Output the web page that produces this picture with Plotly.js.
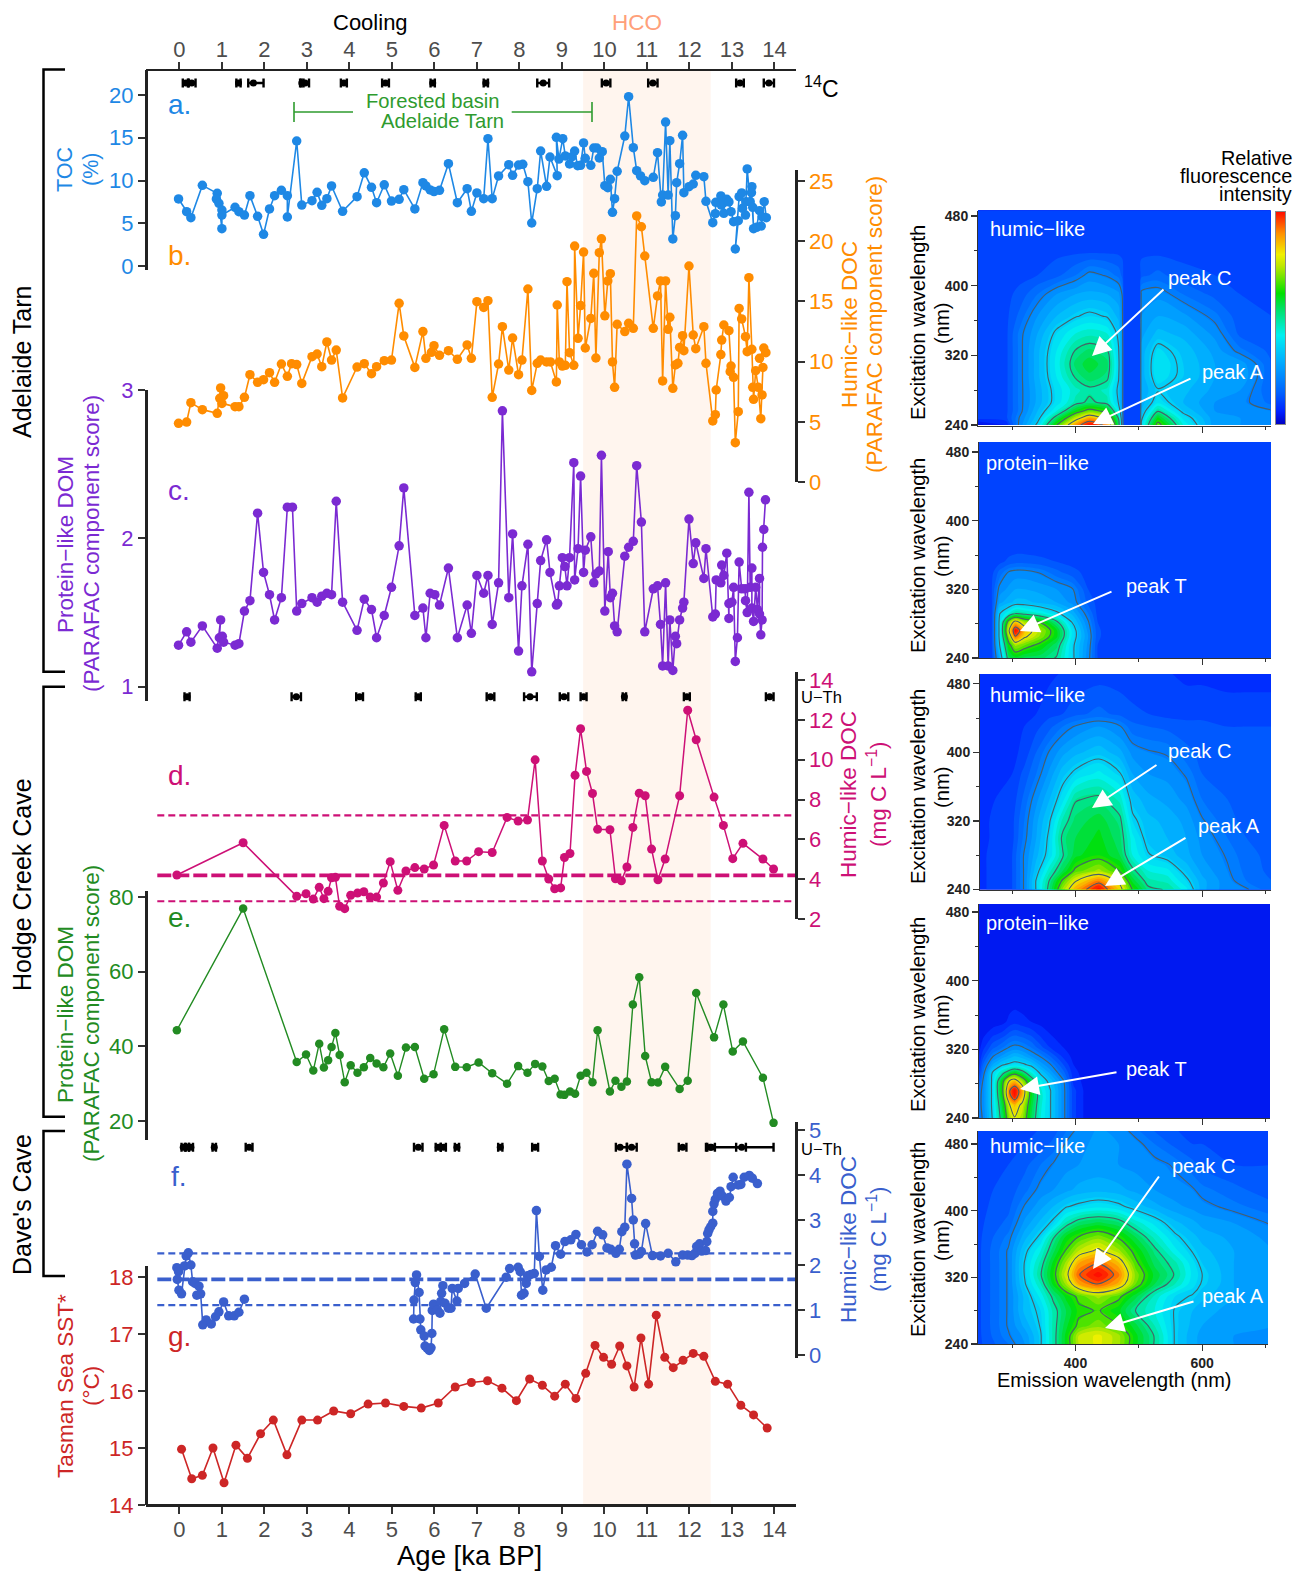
<!DOCTYPE html>
<html><head><meta charset="utf-8">
<script src="https://cdn.plot.ly/plotly-3.0.1.min.js"></script>
<style>html,body{margin:0;padding:0;background:#fff}#c{width:1295px;height:1571px}</style></head>
<body><div id="c"></div>
<script>
// ---------- DATA ----------
const ageTicks=[0,1,2,3,4,5,6,7,8,9,10,11,12,13,14];
const tocAge=[-.02,.17,.27,.54,.89,.87,.93,1,1,1,1.31,1.4,1.53,1.66,1.84,1.98,2.12,2.24,2.4,2.54,2.54,2.76,2.88,3.12,3.24,3.35,3.47,3.58,3.84,4.18,4.35,4.52,4.64,4.82,4.99,5.17,5.28,5.54,5.73,5.8,5.9,5.99,6.12,6.33,6.54,6.77,6.87,7,7.16,7.26,7.36,7.51,7.75,7.84,7.98,8.08,8.2,8.29,8.42,8.5,8.64,8.72,8.89,8.87,8.93,9.02,9.08,9.18,9.24,9.3,9.37,9.44,9.51,9.55,9.68,9.75,9.82,9.88,9.95,10.01,10.08,10.14,10.19,10.24,10.3,10.48,10.57,10.68,10.76,10.85,10.95,11.15,11.25,11.34,11.37,11.44,11.5,11.54,11.61,11.67,11.7,11.77,11.84,11.87,11.99,12.09,12.15,12.34,12.39,12.55,12.61,12.62,12.74,12.75,12.81,12.81,12.88,12.93,12.98,13.04,13.15,13.08,13.17,13.23,13.25,13.32,13.33,13.36,13.43,13.47,13.46,13.51,13.49,13.65,13.58,13.69,13.71,13.76,13.81];
const tocVal=[7.84,6.35,5.65,9.43,8.5,7.84,7.33,4.37,6.55,5.96,6.86,6.35,5.96,8.23,5.81,3.7,6.67,8.23,8.85,8.23,5.73,14.62,7.13,7.64,8.62,7.1,7.88,9.36,6.39,8.11,10.9,9.2,7.4,9.5,7.6,7.8,8.93,6.67,9.75,9.36,8.9,8.7,8.85,11.97,7.4,9.04,6.39,8.54,7.88,14.89,7.88,10.53,11.85,10.6,11.81,11.89,9.86,5.03,9.04,13.45,9.32,12.75,10.57,15.05,12.51,14.89,12.87,11.93,12.79,13.45,11.73,11.77,14.39,12.59,11.77,13.8,13.8,12.63,13.37,9.4,9.16,10.14,6.28,7.88,11.07,15.2,19.8,13.84,11.15,10.53,9.98,10.37,13.26,7.49,8.3,16.84,8.3,14.66,3.16,5.89,9.75,11.97,15.28,8.58,9.28,9.59,10.6,10.45,7.56,5.07,6.12,7.45,8.19,7.13,6.16,7.41,7.8,7.49,6.35,5.19,5.3,1.99,8.11,8.54,6.74,5.96,7.52,11.35,7.52,9.28,8.58,4.37,6.86,6.47,4.52,4.68,5.77,7.52,5.65];

const humicAge=[-.02,.17,.27,.54,.89,.97,.95,1.04,1,1.31,1.4,1.53,1.66,1.84,1.98,2.12,2.24,2.4,2.54,2.64,2.76,2.88,3.12,3.24,3.35,3.47,3.58,3.69,3.84,4.18,4.35,4.52,4.64,4.82,4.99,5.17,5.28,5.54,5.73,5.8,5.93,5.99,6.12,6.33,6.54,6.77,6.87,7,7.16,7.26,7.36,7.51,7.6,7.75,7.84,7.98,8.06,8.2,8.29,8.42,8.5,8.64,8.73,8.87,8.89,8.94,9.01,9.08,9.12,9.18,9.28,9.3,9.38,9.44,9.51,9.55,9.68,9.75,9.8,9.88,9.93,10.01,10.08,10.14,10.19,10.24,10.3,10.48,10.57,10.68,10.76,10.87,10.95,11.15,11.25,11.32,11.37,11.44,11.5,11.54,11.61,11.67,11.73,11.77,11.84,11.87,11.99,12.09,12.15,12.34,12.39,12.55,12.61,12.63,12.74,12.76,12.81,12.93,12.98,12.96,13.04,13.08,13.15,13.17,13.23,13.32,13.36,13.4,13.47,13.49,13.51,13.56,13.62,13.68,13.71,13.73,13.65,13.75,13.8];
const humicVal=[4.87,4.98,6.59,6.01,5.7,7.81,6.95,7.17,6.53,6.26,6.26,7.03,8.91,8.28,8.5,9.08,8.28,9.8,8.78,9.83,9.75,8.19,10.41,10.63,9.58,11.63,10.13,10.96,6.98,9.55,9.83,9,9.58,10.08,10.13,14.84,12.13,9.52,12.49,10.27,10.77,11.32,10.52,10.91,10.19,11.38,10.27,14.98,14.5,15.06,7.03,9.8,12.9,9.3,11.96,8.91,10.13,16.03,7.61,9.86,10.13,9.97,9.97,8.31,14.7,9.97,9.63,9.69,16.64,10.74,9.69,19.6,11.93,14.65,19.1,11.13,13.59,17.33,10.3,19.05,20.2,13.8,16.7,17.3,9.97,7.86,13.1,12.49,13.18,12.76,22.1,21.2,18.77,12.76,15.45,16.7,8.39,16.7,12.68,13.68,7.78,9.72,9.86,11.18,12.15,10.91,17.94,12.21,11.07,12.9,9.86,5.07,5.59,7.64,10.58,11.79,13.04,12.57,9.63,9.16,8.69,3.27,5.84,14.42,13.54,12.07,10.82,16.97,11.02,7.86,6.87,9.25,7.86,5.26,7.23,9.52,10.27,11.13,10.74];

const protAge=[-.02,.17,.27,.54,.89,.97,.94,1.01,1.04,1.31,1.4,1.53,1.66,1.84,1.98,2.12,2.24,2.4,2.54,2.66,2.76,2.88,3.12,3.24,3.35,3.47,3.58,3.69,3.84,4.18,4.35,4.52,4.64,4.82,4.99,5.17,5.28,5.54,5.73,5.8,5.9,6.01,6.12,6.33,6.54,6.77,6.87,7,7.16,7.26,7.36,7.51,7.6,7.75,7.84,7.98,8.06,8.2,8.29,8.42,8.5,8.64,8.72,8.87,8.9,8.94,9.01,9.07,9.12,9.18,9.28,9.3,9.38,9.44,9.51,9.55,9.68,9.75,9.8,9.88,9.93,10.01,10.09,10.14,10.19,10.24,10.3,10.48,10.57,10.68,10.76,10.87,10.95,11.15,11.25,11.32,11.37,11.44,11.5,11.54,11.61,11.67,11.7,11.77,11.84,11.87,11.99,12.09,12.15,12.34,12.39,12.55,12.61,12.63,12.74,12.76,12.81,12.88,12.93,12.93,13,13.04,13.08,13.13,13.17,13.23,13.31,13.32,13.36,13.4,13.43,13.47,13.47,13.51,13.56,13.6,13.65,13.65,13.68,13.71,13.72,13.75,13.79];
const protVal=[1.28,1.37,1.3,1.41,1.26,1.45,1.33,1.34,1.3,1.28,1.29,1.51,1.58,2.17,1.77,1.62,1.45,1.6,2.21,2.21,1.51,1.56,1.6,1.57,1.61,1.63,1.62,2.25,1.57,1.38,1.59,1.52,1.33,1.48,1.67,1.95,2.34,1.48,1.53,1.33,1.63,1.62,1.55,1.8,1.33,1.55,1.36,1.75,1.63,1.75,1.42,1.7,2.86,1.6,2.03,1.24,1.68,1.96,1.1,1.56,1.85,1.99,1.77,1.55,1.56,1.68,1.87,1.81,1.68,1.87,2.51,1.72,1.93,2.42,1.77,1.92,2.01,1.7,1.76,1.78,2.56,1.51,1.91,1.6,1.63,1.41,1.37,1.88,1.94,1.98,2.49,2.11,1.37,1.66,1.68,1.42,1.14,1.7,1.14,1.45,1.11,1.34,1.29,1.45,1.53,1.57,2.13,1.83,1.97,1.73,1.93,1.47,1.49,1.72,1.7,1.82,1.75,1.9,1.46,1.56,1.57,1.67,1.17,1.33,1.84,1.66,1.66,1.58,1.5,2.31,1.67,1.8,1.53,1.44,1.67,1.52,1.73,1.49,1.35,1.45,1.94,2.06,2.26];

const hodgeAge=[-.06,1.5,2.76,2.98,3.15,3.29,3.4,3.5,3.58,3.67,3.77,3.89,4.03,4.19,4.34,4.49,4.64,4.8,4.96,5.14,5.33,5.54,5.76,5.98,6.23,6.49,6.76,7.04,7.36,7.71,7.97,8.19,8.37,8.54,8.69,8.83,8.97,9.06,9.19,9.31,9.44,9.58,9.72,9.84,10.13,10.26,10.4,10.53,10.67,10.82,10.96,11.11,11.26,11.43,11.77,11.96,12.16,12.58,12.8,13.02,13.26,13.73,13.98];
const hodgeDoc=[4.21,5.83,3.14,3.27,3,3.59,3.02,3.39,4.07,4.09,2.64,2.52,3.19,3.3,3.37,3.1,3.1,3.81,4.88,3.44,4.41,4.58,4.51,4.71,6.7,4.91,4.91,5.38,5.34,7.1,6.92,6.97,9.99,4.91,4.01,3.52,3.56,5.09,5.29,9.22,11.55,9.41,8.3,6.5,6.48,4.02,3.92,4.61,6.6,8.32,8.19,5.51,3.97,5.01,8.19,12.48,11,8.12,6.7,5.03,5.8,5.01,4.51];
const hodgeDom=[44.3,76.9,35.8,37.8,33.5,40.7,34.3,36.3,39.8,43.6,37.7,30.4,34.9,32.9,34.4,36.9,35.4,34.4,38.1,32.1,39.7,39.8,31.3,32.5,44.6,34.5,34.4,35.7,32.8,30,34.7,32.9,35.3,34.6,30.7,31.3,27.1,27,27.9,27.3,32.1,32.9,30.4,44.3,27.9,30.8,29.2,30.6,51.2,58.5,37.4,30.4,30.3,34.5,28.6,30.8,54.3,42.4,51.2,38.6,41.3,31.6,19.5];
const hodgeLimits=[7.2,4.19,2.89];

const daveAge=[-.06,-.02,-.05,-.01,.05,.12,.16,.21,.27,.31,.37,.46,.41,.5,.55,.63,.75,.85,.93,1.04,1.16,1.29,1.4,1.53,null,5.51,5.52,5.55,5.58,5.64,5.66,5.68,5.76,5.78,5.83,5.88,5.92,5.94,5.95,5.98,6.07,6.13,6.2,6.17,6.15,6.25,6.33,6.39,6.42,6.53,6.56,6.71,6.96,7.22,7.69,7.77,7.97,8.02,8.05,8.11,8.16,8.19,8.27,8.35,8.4,8.47,8.55,8.63,8.75,8.85,8.97,9.07,9.21,9.33,9.46,9.59,9.71,9.84,9.96,10.06,10.15,10.27,10.35,10.41,10.48,10.53,10.64,10.68,10.71,10.73,10.82,10.87,10.97,11.13,11.32,11.5,11.68,11.84,11.96,12.06,12.13,12.17,12.24,12.29,12.38,12.41,12.43,12.46,12.5,12.55,12.55,12.58,12.61,12.66,12.72,12.78,12.86,12.94,12.98,13.03,13.15,13.21,13.29,13.41,13.48,13.6];
const daveDoc=[1.94,1.85,1.68,1.44,1.36,1.98,2.2,2.27,2,1.63,1.59,1.53,1.33,1.36,.67,.78,.69,.85,.96,1.18,.87,.87,.95,1.24,null,.8,1.22,1.61,1.78,1.39,.8,.56,.42,.2,.15,.1,.16,.48,.99,1.13,1,.93,1.54,1.37,1.19,1.15,1.04,1.04,1.48,1.2,1.48,1.59,1.8,1.04,1.73,1.92,1.95,1.85,1.33,1.37,1.59,1.76,1.79,1.81,3.21,2.19,1.44,1.89,1.95,2.43,2.24,2.52,2.56,2.68,2.45,2.29,2.45,2.75,2.67,2.38,2.35,2.26,2.35,2.74,2.84,4.24,3.48,3,2.47,2.22,2.24,2.3,2.92,2.21,2.2,2.26,2.07,2.22,2.22,2.21,2.26,2.41,2.47,2.31,2.32,2.52,2.7,2.78,2.85,2.93,3.19,3.36,3.46,3.59,3.64,3.53,3.42,3.5,3.74,3.95,3.78,3.79,3.95,3.99,3.93,3.81];
const daveLimits=[2.26,1.68,1.11];

const sstAge=[.05,.29,.54,.79,1.05,1.33,1.6,1.91,2.21,2.53,2.88,3.25,3.63,4.03,4.44,4.85,5.28,5.69,6.09,6.49,6.87,7.25,7.59,7.93,8.24,8.54,8.83,9.08,9.33,9.56,9.78,9.98,10.17,10.36,10.53,10.7,10.86,11.04,11.22,11.42,11.62,11.85,12.09,12.34,12.61,12.9,13.21,13.51,13.83];
const sstVal=[14.98,14.46,14.52,15,14.39,15.05,14.82,15.25,15.49,14.88,15.49,15.49,15.65,15.6,15.77,15.79,15.73,15.7,15.79,16.07,16.15,16.18,16.05,15.83,16.21,16.1,15.91,16.12,15.87,16.31,16.8,16.59,16.47,16.79,16.44,16.07,16.93,16.12,17.33,16.59,16.41,16.54,16.66,16.61,16.17,16.12,15.75,15.58,15.35];

// age-model dates: centre, minus, plus
const c14Age=[.15,.29,1.39,1.74,2.88,2.96,3.87,4.85,5.96,7.21,8.56,10.04,11.14,13.19,13.87];
const c14Minus=[.07,.09,.05,.12,.04,.09,.07,.08,.05,.05,.14,.1,.11,.09,.12];
const c14Plus=[.07,.09,.05,.24,.04,.09,.07,.08,.05,.05,.14,.1,.11,.09,.12];
const hodgeDateAge=[.18,2.75,4.24,5.62,7.32,8.25,9.05,9.51,10.47,11.94,13.89];
const hodgeDateMinus=[.06,.11,.08,.06,.09,.14,.1,.07,.04,.07,.09];
const hodgeDatePlus=[.06,.11,.08,.06,.09,.16,.1,.07,.04,.07,.09];
const daveDateAge=[.09,.19,.27,.82,1.64,5.62,6.09,6.21,6.53,7.55,8.37,10.37,10.64,11.84,12.49,12.52,13.23];
const daveDateMinus=[.04,.04,.05,.04,.08,.1,.06,.06,.05,.05,.07,.1,.11,.09,.1,.1,.13];
const daveDatePlus=[.04,.04,.05,.04,.08,.1,.06,.06,.05,.05,.07,.16,.12,.09,.11,1.46,.1];
const hcoSpan=[9.5,12.5];

// EEM panels (relative intensity, rows from low to high excitation)
const em1=[246,290,312,340,370,400,422,450,468,474,476,502,504,530,570,620,660,710];
const ex1=[240,248,256,266,280,295,310,325,345,365,390,412,440,495];
const z1=[
[.04,.08,.24,.38,.64,.88,1.0,.9,.54,.32,.13,.13,.38,.68,.44,.27,.26,.26],
[.12,.13,.23,.34,.54,.74,.86,.76,.5,.3,.13,.13,.35,.6,.4,.27,.26,.25],
[.12,.13,.21,.32,.44,.6,.68,.62,.42,.28,.13,.13,.32,.5,.35,.26,.25,.23],
[.12,.13,.21,.3,.39,.48,.52,.48,.36,.26,.13,.13,.3,.4,.32,.26,.24,.19],
[.12,.13,.21,.3,.39,.46,.49,.46,.35,.26,.13,.13,.29,.36,.33,.28,.26,.17],
[.12,.13,.21,.31,.41,.51,.55,.52,.37,.26,.13,.13,.3,.4,.35,.29,.29,.17],
[.12,.13,.21,.31,.42,.54,.58,.54,.38,.26,.13,.13,.3,.41,.35,.29,.28,.17],
[.12,.13,.21,.31,.41,.51,.54,.51,.37,.26,.13,.13,.3,.39,.34,.28,.21,.16],
[.12,.13,.21,.29,.38,.44,.46,.44,.35,.25,.13,.13,.28,.33,.31,.25,.16,.15],
[.12,.13,.18,.26,.32,.36,.38,.36,.31,.24,.13,.13,.26,.29,.27,.21,.15,.14],
[.12,.13,.15,.2,.26,.29,.3,.29,.27,.22,.13,.13,.24,.25,.2,.16,.14,.14],
[.12,.13,.13,.14,.16,.2,.24,.22,.19,.16,.13,.13,.16,.18,.15,.14,.14,.14],
[.13,.13,.13,.13,.13,.13,.13,.13,.13,.13,.13,.13,.13,.13,.13,.13,.13,.13],
[.13,.13,.13,.13,.13,.13,.13,.13,.13,.13,.13,.13,.13,.13,.13,.13,.13,.13]];
const em2=[246,268,280,295,305,320,345,370,395,420,435,450,710];
const ex2=[240,255,265,272,282,292,305,320,340,352,370,495];
const z2=[
[.12,.13,.3,.55,.58,.55,.54,.5,.38,.24,.14,.12,.12],
[.12,.14,.36,.62,.72,.68,.62,.54,.38,.25,.14,.12,.12],
[.12,.14,.38,.72,.92,.8,.7,.6,.4,.26,.15,.12,.12],
[.12,.14,.38,.78,1.0,.84,.72,.6,.4,.25,.15,.12,.12],
[.12,.14,.38,.7,.82,.72,.64,.52,.36,.23,.14,.12,.12],
[.12,.14,.36,.44,.5,.48,.44,.38,.31,.2,.13,.12,.12],
[.12,.14,.28,.31,.33,.33,.31,.29,.25,.16,.13,.12,.12],
[.12,.14,.24,.27,.29,.29,.28,.26,.23,.14,.13,.12,.12],
[.12,.13,.18,.23,.24,.24,.22,.18,.15,.13,.12,.12,.12],
[.12,.12,.13,.15,.16,.16,.15,.14,.13,.12,.12,.12,.12],
[.12,.12,.12,.12,.12,.12,.12,.12,.12,.12,.12,.12,.12],
[.12,.12,.12,.12,.12,.12,.12,.12,.12,.12,.12,.12,.12]];
const em3=[246,300,319,338,359,380,400,437,470,490,515,545,575,600,640,670,710];
const ex3=[240,250,262,280,300,320,345,375,400,430,445,495];
const z3=[
[.1,.14,.23,.37,.53,.72,.86,1.0,.82,.64,.52,.5,.42,.3,.24,.23,.18],
[.1,.14,.23,.37,.51,.66,.78,.9,.76,.58,.48,.46,.38,.3,.24,.2,.17],
[.1,.14,.23,.34,.46,.56,.66,.72,.64,.52,.44,.42,.34,.28,.23,.19,.16],
[.1,.14,.23,.31,.39,.5,.58,.62,.56,.44,.37,.34,.3,.26,.22,.18,.16],
[.1,.13,.21,.29,.38,.52,.56,.6,.54,.42,.34,.32,.29,.25,.2,.17,.15],
[.1,.13,.2,.28,.36,.48,.54,.58,.52,.38,.33,.31,.28,.23,.18,.16,.15],
[.1,.12,.18,.25,.32,.4,.5,.52,.46,.34,.3,.28,.25,.2,.17,.15,.15],
[.1,.11,.15,.2,.27,.34,.38,.42,.37,.29,.26,.25,.22,.17,.16,.15,.15],
[.1,.1,.12,.17,.23,.28,.31,.34,.3,.25,.23,.22,.18,.16,.15,.15,.15],
[.1,.1,.11,.13,.16,.2,.23,.26,.23,.18,.17,.16,.15,.15,.14,.14,.14],
[.1,.1,.1,.11,.13,.14,.16,.18,.16,.15,.14,.13,.13,.13,.12,.12,.12],
[.1,.1,.1,.1,.1,.11,.11,.12,.12,.11,.11,.11,.1,.1,.1,.1,.1]];
const em4=[246,254,269,285,296,304,316,330,345,360,381,397,420,710];
const ex4=[240,255,265,272,283,293,302,312,322,338,352,380,495];
const z4=[
[.2,.23,.37,.55,.72,.78,.72,.56,.44,.37,.24,.12,.06,.06],
[.2,.24,.38,.58,.78,.84,.76,.58,.45,.37,.24,.12,.06,.06],
[.2,.24,.38,.62,.9,.98,.84,.6,.46,.37,.24,.12,.06,.06],
[.19,.24,.38,.64,.92,1.0,.86,.6,.45,.37,.24,.12,.06,.06],
[.14,.23,.38,.62,.8,.84,.72,.56,.42,.34,.23,.1,.06,.06],
[.1,.2,.37,.48,.56,.6,.54,.44,.35,.28,.18,.09,.06,.06],
[.08,.17,.29,.36,.38,.39,.38,.35,.28,.23,.14,.08,.06,.06],
[.07,.13,.22,.27,.3,.32,.3,.26,.22,.17,.1,.07,.06,.06],
[.06,.1,.16,.2,.23,.24,.23,.2,.15,.11,.08,.06,.06,.06],
[.06,.07,.1,.12,.15,.16,.15,.13,.1,.08,.06,.06,.06,.06],
[.06,.06,.06,.07,.09,.1,.09,.08,.07,.06,.06,.06,.06,.06],
[.06,.06,.06,.06,.06,.06,.06,.06,.06,.06,.06,.06,.06,.06],
[.06,.06,.06,.06,.06,.06,.06,.06,.06,.06,.06,.06,.06,.06]];
const em5=[246,294,320,345,365,385,405,436,468,495,525,557,585,600,650,710];
const ex5=[240,250,262,280,297,312,323,337,352,368,385,405,425,455,480,500];
const z5=[
[.13,.2,.26,.36,.48,.6,.74,.78,.72,.6,.5,.36,.3,.28,.26,.26],
[.13,.22,.27,.36,.48,.6,.74,.78,.72,.6,.5,.36,.3,.28,.26,.26],
[.13,.23,.3,.37,.48,.58,.66,.7,.65,.57,.47,.36,.31,.29,.27,.26],
[.13,.23,.33,.38,.48,.56,.63,.65,.6,.5,.44,.36,.32,.3,.28,.26],
[.13,.23,.33,.42,.52,.6,.66,.72,.66,.57,.46,.38,.36,.33,.29,.26],
[.13,.23,.36,.47,.6,.72,.86,.93,.85,.68,.56,.47,.39,.36,.29,.26],
[.13,.23,.37,.5,.62,.76,.92,1.0,.9,.7,.58,.5,.4,.365,.29,.26],
[.13,.23,.37,.48,.6,.72,.86,.92,.84,.66,.55,.48,.39,.35,.29,.26],
[.13,.23,.35,.44,.55,.65,.74,.8,.72,.62,.52,.42,.36,.33,.29,.26],
[.13,.21,.31,.38,.5,.6,.65,.7,.64,.56,.46,.38,.33,.31,.28,.25],
[.13,.18,.27,.33,.38,.48,.54,.57,.54,.46,.4,.33,.3,.28,.26,.22],
[.13,.16,.23,.28,.32,.36,.38,.4,.38,.34,.3,.27,.25,.24,.21,.18],
[.13,.15,.19,.24,.26,.28,.3,.31,.3,.28,.26,.24,.23,.21,.18,.15],
[.13,.14,.16,.2,.23,.25,.26,.27,.26,.25,.24,.22,.18,.16,.14,.14],
[.13,.13,.14,.15,.18,.23,.25,.27,.26,.24,.2,.16,.14,.14,.14,.14],
[.13,.13,.13,.14,.15,.19,.23,.26,.24,.2,.16,.14,.14,.14,.14,.14]];
const colorbarLevels=[0,.1,.2,.3,.4,.5,.6,.7,.8,.9,1];

// ---------- STYLE / LAYOUT ----------
const W=1295,H=1571,FONT='"Liberation Sans",Arial,sans-serif';
const C={a:'#1E88E5',b:'#FF8C00',c:'#7B2AD2',d:'#CD1076',e:'#228B22',f:'#3A5FCD',g:'#CD2626',hco:'#FFA07A',label:'#4D4D4D',ax:'#222222'};
const rainbow=[[0,'#0000C0'],[.06,'#0020FF'],[.15,'#0060FF'],[.3,'#00B0FF'],[.42,'#00F0F0'],[.55,'#00E060'],[.62,'#00E000'],[.75,'#C0E800'],[.8,'#F0F000'],[.9,'#FF9000'],[1,'#FF1000']];
const fx=p=>p/W, fy=p=>1-p/H;
const dom=(t,b)=>[fy(b),fy(t)];
function scale(t,b,v1,p1,v2,p2){const s=(v2-v1)/(p2-p1),v=p=>v1+(p-p1)*s;return {domain:dom(t,b),range:[v(b),v(t)]};}
const ageRange=[(146-179.4)/42.5,(796-179.4)/42.5];
function yAxis(sc,color,vals,side,extra){return Object.assign({domain:sc.domain,range:sc.range,anchor:'free',position:side==='left'?fx(146):fx(796),side:side,tickmode:'array',tickvals:vals,ticks:'outside',ticklen:7,tickwidth:2,tickcolor:'#333',showline:true,linecolor:C.ax,linewidth:2.5,showgrid:false,zeroline:false,tickfont:{family:FONT,size:22,color:color},fixedrange:true},extra||{});}
function xAxis(pos,side,extra){return Object.assign({domain:[fx(146),fx(796)],range:ageRange,anchor:'free',position:pos,side:side,tickmode:'array',tickvals:ageTicks,ticks:'outside',ticklen:7,tickwidth:2,tickcolor:'#333',showline:true,linecolor:C.ax,linewidth:2.5,showgrid:false,zeroline:false,tickfont:{family:FONT,size:22,color:C.label},fixedrange:true},extra||{});}
const hiddenY=(py)=>({domain:dom(py-6,py+6),range:[0,1],visible:false,fixedrange:true,anchor:'x'});

const layout={width:W,height:H,margin:{l:0,r:0,t:0,b:0},paper_bgcolor:'#fff',plot_bgcolor:'rgba(0,0,0,0)',showlegend:false,font:{family:FONT},
 xaxis:xAxis(fy(1505),'bottom',{ticklabelstandoff:-3}),
 xaxis2:xAxis(fy(69.5),'top',{overlaying:'x',ticklabelstandoff:-4}),
 yaxis:yAxis(scale(69.5,269.5,0,266,20,95),C.a,[0,5,10,15,20],'left'),
 yaxis2:yAxis(scale(170,482,0,482,25,181),C.b,[0,5,10,15,20,25],'right'),
 yaxis3:yAxis(scale(390,700.7,3,390,1,686.7),C.c,[1,2,3],'left'),
 yaxis4:yAxis(scale(672,919,2,919,14,680),C.d,[2,4,6,8,10,12,14],'right'),
 yaxis5:yAxis(scale(890.7,1140,80,897,20,1121),C.e,[20,40,60,80],'left'),
 yaxis6:yAxis(scale(1122,1358,0,1355,5,1130),C.f,[0,1,2,3,4,5],'right'),
 yaxis7:yAxis(scale(1266,1505,14,1505,18,1277),C.g,[14,15,16,17,18],'left'),
 yaxis8:hiddenY(83), yaxis9:hiddenY(696.7), yaxis10:hiddenY(1147.3)
};
// EEM panels
const panels=[
 {l:978,r:1270.5,t:210.5,b:425.5,y480:216,y240:425,em:em1,ex:ex1,z:z1},
 {l:979,r:1271,t:442,b:658,y480:452,y240:658,em:em2,ex:ex2,z:z2},
 {l:980,r:1271,t:674,b:889.5,y480:683.7,y240:889.5,em:em3,ex:ex3,z:z3},
 {l:979,r:1270,t:904,b:1118,y480:912,y240:1118,em:em4,ex:ex4,z:z4},
 {l:978,r:1268,t:1131,b:1344,y480:1144,y240:1344,em:em5,ex:ex5,z:z5}];
const traces=[];
panels.forEach((p,i)=>{
 const xn='xaxis'+(3+i),yn='yaxis'+(11+i),last=i===4;
 const xv=q=>400+(q-1075.5)/0.6335;
 layout[xn]={domain:[fx(p.l),fx(p.r)],range:[xv(p.l),xv(p.r)],anchor:'y'+(11+i),tickmode:'array',tickvals:[400,600],showticklabels:last,ticks:'outside',ticklen:6,tickwidth:1.3,tickcolor:'#333',
   minor:{tickmode:'array',tickvals:[300,500,700],ticks:'outside',ticklen:3,tickwidth:1,tickcolor:'#333'},
   showline:true,linecolor:'#333',linewidth:1,showgrid:false,zeroline:false,tickfont:{family:FONT,size:14,weight:'bold',color:'#222'},fixedrange:true};
 const s=scale(p.t,p.b,240,p.y240,480,p.y480);
 layout[yn]={domain:s.domain,range:s.range,anchor:'x'+(3+i),tickmode:'array',tickvals:[240,320,400,480],ticks:'outside',ticklen:6,tickwidth:1.3,tickcolor:'#333',
   minor:{tickmode:'array',tickvals:[280,360,440],ticks:'outside',ticklen:3,tickwidth:1,tickcolor:'#333'},
   showline:true,linecolor:'#333',linewidth:1,showgrid:false,zeroline:false,tickfont:{family:FONT,size:14,weight:'bold',color:'#222'},fixedrange:true};
 traces.push({type:'contour',x:p.em,y:p.ex,z:p.z,xaxis:'x'+(3+i),yaxis:'y'+(11+i),zmin:0,zmax:1,zauto:false,colorscale:rainbow,showscale:false,hoverinfo:'skip',
   contours:{coloring:'fill',start:.02,end:1.01,size:.03,showlines:false},line:{width:0,smoothing:.85},autocontour:false});
 traces.push({type:'contour',x:p.em,y:p.ex,z:p.z,xaxis:'x'+(3+i),yaxis:'y'+(11+i),zmin:0,zmax:1,zauto:false,colorscale:[[0,'#46606a'],[1,'#46606a']],showscale:false,hoverinfo:'skip',
   contours:{coloring:'lines',start:.225,end:.95,size:.14},line:{width:1.1,smoothing:.9},autocontour:false});
});
layout.xaxis8={domain:[fx(1275.5),fx(1285)],range:[0,1],anchor:'y16',showticklabels:false,ticks:'',showline:true,mirror:true,linecolor:'#8a8a8a',linewidth:1,showgrid:false,zeroline:false,fixedrange:true};
layout.yaxis16={domain:dom(212,424),range:[0,1],anchor:'x8',showticklabels:false,ticks:'',showline:true,mirror:true,linecolor:'#8a8a8a',linewidth:1,showgrid:false,zeroline:false,fixedrange:true};
traces.push({type:'heatmap',x:[0,1],y:colorbarLevels,z:colorbarLevels.map(v=>[v,v]),xaxis:'x8',yaxis:'y16',zmin:0,zmax:1,zsmooth:'best',colorscale:rainbow,showscale:false,hoverinfo:'skip'});

// series
function series(x,y,ya,color,ms,lw){traces.push({type:'scatter',mode:'lines+markers',x:x,y:y,yaxis:ya,xaxis:'x',cliponaxis:false,hoverinfo:'skip',line:{color:color,width:lw||1.6},marker:{color:color,size:ms||9.5}});}
function limits(vals,ya,color){
 const xs=[-.52,14.5];
 [[vals[0],2.2,'7px,4px'],[vals[1],3.6,'14px,4px'],[vals[2],2.2,'7px,4px']].forEach(v=>{
  traces.push({type:'scatter',mode:'lines',x:xs,y:[v[0],v[0]],xaxis:'x',yaxis:ya,cliponaxis:false,hoverinfo:'skip',line:{color:color,width:v[1],dash:v[2]}});});
}
limits(hodgeLimits,'y4',C.d); limits(daveLimits,'y6',C.f);
series(tocAge,tocVal,'y',C.a); series(humicAge,humicVal,'y2',C.b); series(protAge,protVal,'y3',C.c);
series(hodgeAge,hodgeDoc,'y4',C.d,9,1.5); series(hodgeAge,hodgeDom,'y5',C.e,8.5,1.4);
series(daveAge,daveDoc,'y6',C.f); series(sstAge,sstVal,'y7',C.g,9);
function dates(age,minus,plus,ya,xa){traces.push({type:'scatter',mode:'markers',x:age,y:age.map(()=>.5),xaxis:xa,yaxis:ya,cliponaxis:false,hoverinfo:'skip',marker:{color:'#000',size:7},error_x:{type:'data',symmetric:false,array:plus,arrayminus:minus,color:'#000',thickness:2.4,width:4.5}});}
dates(c14Age,c14Minus,c14Plus,'y8','x2'); dates(hodgeDateAge,hodgeDateMinus,hodgeDatePlus,'y9','x'); dates(daveDateAge,daveDateMinus,daveDatePlus,'y10','x');

// text
const ann=[];
function T(text,x,y,color,size,angle,anchor){ann.push({text:text,xref:'paper',yref:'paper',x:fx(x),y:fy(y),xanchor:anchor||'center',yanchor:'middle',showarrow:false,textangle:angle||0,borderpad:0,font:{family:FONT,size:size,color:color}});}
const M='\u2212';
T('Cooling',370,23,'#000',22); T('HCO',637,23,C.hco,22.5);
T('<sup>14</sup>C',821,87,'#000',23);
T('U'+M+'Th',821,697,'#000',16.5); T('U'+M+'Th',821,1149,'#000',16.5);
T('Forested basin',433.5,101,'#2E9B2E',20.2); T('Adelaide Tarn',442,121,'#2E9B2E',20.2);
T('a.',179,105,C.a,28); T('b.',179,255,C.b,28); T('c.',179,491,C.c,28); T('d.',179,775,C.d,28); T('e.',179,917,C.e,28); T('f.',179,1176,C.f,28); T('g.',179,1336,C.g,28);
T('Adelaide Tarn',22,362,'#000',25,-90); T('Hodge Creek Cave',22,885,'#000',25,-90); T("Dave's Cave",22,1205,'#000',25,-90);
T('TOC',65,170,C.a,21.5,-90); T('(%)',91,170,C.a,21.5,-90);
T('Humic'+M+'like DOC',849,325,C.b,22.5,-90); T('(PARAFAC component score)',874,325,C.b,22.5,-90);
T('Protein'+M+'like DOM',65,545,C.c,22.5,-90); T('(PARAFAC component score)',91,544,C.c,22.5,-90);
T('Humic'+M+'like DOC',848,795,C.d,22.5,-90); T('(mg C L<sup>'+M+'1</sup>)',877,795,C.d,22.5,-90);
T('Protein'+M+'like DOM',65,1015,C.e,22.5,-90); T('(PARAFAC component score)',91,1014,C.e,22.5,-90);
T('Humic'+M+'like DOC',848,1240,C.f,22.5,-90); T('(mg C L<sup>'+M+'1</sup>)',877,1240,C.f,22.5,-90);
T('Tasman Sea SST*',65,1386,C.g,22.5,-90); T('(\u00B0C)',91,1386,C.g,22.5,-90);
T('Age [ka BP]',469.5,1555,'#000',27.5);
T('Relative',1293,158,'#000',19.8,0,'right'); T('fluorescence',1293,176,'#000',19.8,0,'right'); T('intensity',1293,194,'#000',19.8,0,'right');
T('Emission wavelength (nm)',1114,1380,'#000',20);
[323,556,787,1015,1240].forEach(y=>{T('Excitation wavelength',918,y,'#000',20.2,-90); T('(nm)',942,y,'#000',20.2,-90);});
[['humic'+M+'like',1037,229],['protein'+M+'like',1037,463],['humic'+M+'like',1037,695],['protein'+M+'like',1037,923],['humic'+M+'like',1037,1146]].forEach(a=>T(a[0],a[1],a[2],'#fff',20));
[['peak C',1199,278],['peak A',1233,372],['peak T',1156,586],['peak C',1199,751],['peak A',1229,826],['peak T',1156,1069],['peak C',1203,1166],['peak A',1233,1296]].forEach(a=>T(a[0],a[1],a[2],'#fff',20));
[[1165,288,1092,356],[1192,378,1093,424],[1113,591,1020,631],[1158,764,1092,808],[1187,837,1105,886],[1118,1072,1020,1089],[1160,1175,1093,1269],[1195,1301,1105,1328]].forEach(a=>{
 ann.push({xref:'paper',yref:'paper',x:fx(a[2]),y:fy(a[3]),ax:a[0]-a[2],ay:a[1]-a[3],axref:'pixel',ayref:'pixel',text:'',showarrow:true,arrowhead:2,arrowsize:1.9,arrowwidth:2,arrowcolor:'#fff',standoff:0});});
layout.annotations=ann;

// shapes
const bracket=(t,b)=>({type:'path',xref:'paper',yref:'paper',path:`M ${fx(65)} ${fy(t)} L ${fx(43.5)} ${fy(t)} L ${fx(43.5)} ${fy(b)} L ${fx(65)} ${fy(b)}`,line:{color:'#000',width:2.5}});
const seg=(x0,y0,x1,y1)=>({type:'line',xref:'paper',yref:'paper',x0:fx(x0),y0:fy(y0),x1:fx(x1),y1:fy(y1),line:{color:'#2E9B2E',width:1.6}});
layout.shapes=[
 {type:'rect',layer:'below',xref:'x',yref:'paper',x0:hcoSpan[0],x1:hcoSpan[1],y0:fy(1505),y1:fy(70.5),fillcolor:'#FFF5EE',line:{width:0}},
 bracket(69.5,671.7),bracket(686.7,1116.7),bracket(1131,1276),
 seg(294,112,353,112),seg(294,102,294,122),seg(511.7,112,592,112),seg(592,102,592,122)
];
Plotly.newPlot('c',traces,layout,{displayModeBar:false,staticPlot:true});
</script></body></html>
